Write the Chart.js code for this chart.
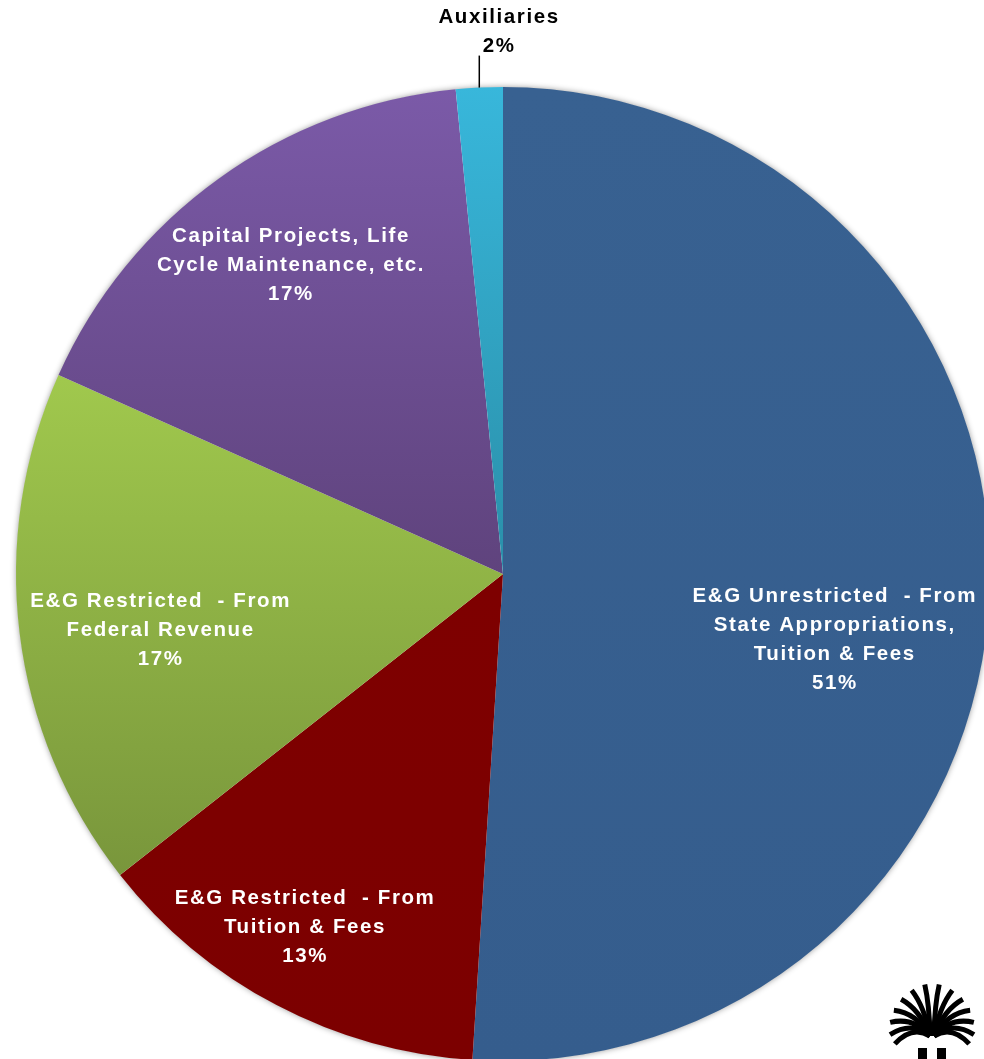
<!DOCTYPE html>
<html>
<head>
<meta charset="utf-8">
<title>Budget by source</title>
<script src="https://cdn.jsdelivr.net/npm/chart.js@4/dist/chart.umd.min.js"></script>
<style>
  html, body { margin: 0; padding: 0; background: #fff; overflow: hidden; }
  #wrap { position: absolute; left: 0; top: 0; width: 1006px; height: 1148px; }
</style>
</head>
<body>
<div id="wrap"><canvas id="pie" width="1006" height="1148"></canvas></div>
<script>
'use strict';

/* ---- Data ---- */
const categories = [
  'E&G Unrestricted - From State Appropriations, Tuition & Fees',
  'E&G Restricted - From Tuition & Fees',
  'E&G Restricted - From Federal Revenue',
  'Capital Projects, Life Cycle Maintenance, etc.',
  'Auxiliaries',
];
const shares = [51.0, 13.4, 17.3, 16.75, 1.55];

// how each label is wrapped on the slice
const labelLines = [
  ['E&G Unrestricted  - From', 'State Appropriations,', 'Tuition & Fees'],
  ['E&G Restricted  - From', 'Tuition & Fees'],
  ['E&G Restricted  - From', 'Federal Revenue'],
  ['Capital Projects, Life', 'Cycle Maintenance, etc.'],
  ['Auxiliaries'],
];

/* ---- Styling ---- */
// [top colour, bottom colour, top stop, bottom stop] across the pie height
const sliceFills = [
  ['#386191', '#355d8d', 0, 1],
  ['#800000', '#7c0000', 0, 1],
  ['#a0c84d', '#78953b', 0.3, 0.82],
  ['#7b5aa8', '#5f437d', 0.0, 0.5],
  ['#38b7db', '#2a8fa9', 0.0, 0.5],
];

// label placement: fraction of radius along the mid angle, plus a nudge
const labelPlacement = [
  { dist: 0.68, dx: 0,   dy: 55 },
  { dist: 0.82, dx: -13, dy: 0 },
  { dist: 0.71, dx: 0,   dy: 14 },
  { dist: 0.78, dx: 9,   dy: 0 },
  { outside: true, dx: 19, dy: -56, leader: 32 },
];

const FONT = 'bold 20.5px "Liberation Sans", Arial, sans-serif';
const LINE_H = 29;

function sliceFill(ctx) {
  const chart = ctx.chart;
  const area = chart.chartArea;
  const f = sliceFills[ctx.dataIndex];
  if (!area) return f[0];
  const g = chart.ctx.createLinearGradient(0, area.top, 0, area.bottom);
  g.addColorStop(f[2], f[0]);
  g.addColorStop(f[3], f[1]);
  return g;
}

/* soft shadow under the whole pie */
const pieShadow = {
  id: 'pieShadow',
  beforeDatasetsDraw(chart) {
    const arc = chart.getDatasetMeta(0).data[0];
    if (!arc) return;
    const { x, y, outerRadius } = arc.getProps(['x', 'y', 'outerRadius'], true);
    const c = chart.ctx;
    c.save();
    c.shadowColor = 'rgba(0,0,0,0.45)';
    c.shadowBlur = 6;
    c.beginPath();
    c.arc(x, y, outerRadius - 0.5, 0, Math.PI * 2);
    c.fillStyle = '#ffffff';
    c.fill();
    c.restore();
  },
};

/* slice labels: name lines + rounded percentage */
const sliceLabels = {
  id: 'sliceLabels',
  afterDatasetsDraw(chart) {
    const c = chart.ctx;
    const meta = chart.getDatasetMeta(0);
    const total = shares.reduce((a, b) => a + b, 0);
    c.save();
    c.font = FONT;
    c.letterSpacing = '1.6px';
    c.textAlign = 'center';
    c.textBaseline = 'middle';
    meta.data.forEach((arc, i) => {
      const p = arc.getProps(['x', 'y', 'startAngle', 'endAngle', 'outerRadius'], true);
      const mid = (p.startAngle + p.endAngle) / 2;
      const place = labelPlacement[i];
      const lines = labelLines[i].concat(Math.round(shares[i] / total * 100) + '%');
      let cx, cy;
      if (place.outside) {
        const ex = p.x + Math.cos(mid) * p.outerRadius;
        const ey = p.y + Math.sin(mid) * p.outerRadius;
        c.strokeStyle = '#000';
        c.lineWidth = 1.5;
        c.beginPath();
        c.moveTo(ex, ey);
        c.lineTo(ex, ey - place.leader);
        c.stroke();
        cx = ex + place.dx;
        cy = ey + place.dy;
        c.fillStyle = '#000';
      } else {
        const d = p.outerRadius * place.dist;
        cx = p.x + Math.cos(mid) * d + place.dx;
        cy = p.y + Math.sin(mid) * d + place.dy;
        c.fillStyle = '#fff';
      }
      const top = cy - (lines.length - 1) * LINE_H / 2;
      lines.forEach((t, k) => c.fillText(t, cx + 0.8, top + k * LINE_H));
    });
    c.restore();
  },
};

/* rough palmetto mark in the bottom-right corner */
const palmetto = {
  id: 'palmetto',
  afterDraw(chart) {
    const c = chart.ctx;
    const ox = 932, oy = 1036;
    c.save();
    c.strokeStyle = '#000';
    c.lineWidth = 5;
    c.lineCap = 'butt';
    // frond tips measured from vertical, with their reach
    const fronds = [[8, 52], [24, 50], [40, 48], [56, 46], [72, 44], [88, 42], [102, 38]];
    [1, -1].forEach(side => {
      fronds.forEach(([deg, len]) => {
        const a = (-90 + side * deg) * Math.PI / 180;
        const ex = ox + Math.cos(a) * len;
        const ey = oy + Math.sin(a) * len;
        const ca = (-90 + side * deg * 0.6) * Math.PI / 180;
        const mx = ox + Math.cos(ca) * len * 0.6;
        const my = oy + Math.sin(ca) * len * 0.6;
        c.beginPath();
        c.moveTo(ox + side * 2, oy);
        c.quadraticCurveTo(mx, my, ex, ey);
        c.stroke();
      });
    });
    c.fillStyle = '#000';
    c.fillRect(ox - 14, oy + 12, 9, 11);
    c.fillRect(ox + 5, oy + 12, 9, 11);
    c.restore();
  },
};

new Chart(document.getElementById('pie'), {
  type: 'pie',
  data: {
    labels: categories,
    datasets: [{
      data: shares,
      backgroundColor: sliceFill,
      borderWidth: 0,
      hoverOffset: 0,
    }],
  },
  options: {
    responsive: false,
    animation: false,
    events: [],
    layout: { padding: { left: 16, right: 16, top: 87, bottom: 87 } },
    plugins: {
      legend: { display: false },
      tooltip: { enabled: false },
    },
  },
  plugins: [pieShadow, sliceLabels, palmetto],
});
</script>
</body>
</html>
